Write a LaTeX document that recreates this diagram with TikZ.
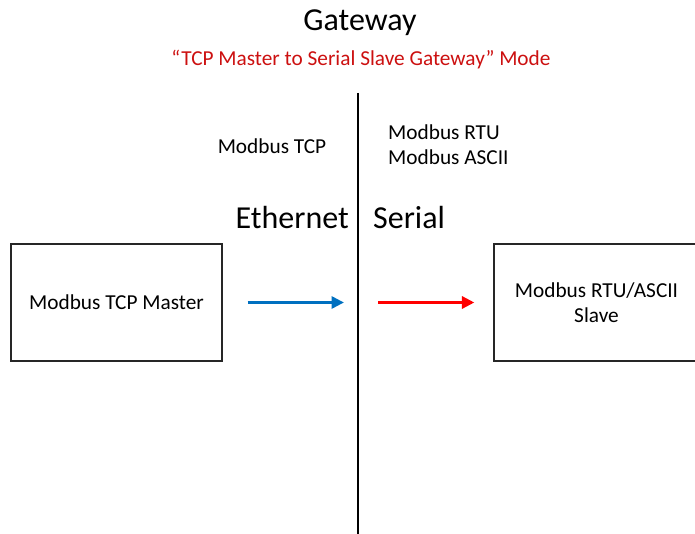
\documentclass[tikz,border=0pt]{standalone}
\usepackage{fontspec}
\setmainfont{Carlito}
\usetikzlibrary{arrows.meta,positioning}
\definecolor{ethblue}{RGB}{0,112,192}
\definecolor{modered}{RGB}{204,16,16}

\begin{document}
\begin{tikzpicture}[
    x=1pt, y=-1pt,
    device/.style={draw=black!85, line width=1.2pt, rectangle, minimum width=211pt, minimum height=117pt, align=center, font=\fontsize{21.3}{25.3}\selectfont},
    proto/.style={font=\fontsize{21.3}{25.3}\selectfont, inner sep=0pt},
    side/.style={font=\fontsize{32}{38}\selectfont, inner sep=0pt},
    flow/.style={-{Triangle[length=12.5pt,width=12pt]}, line width=3.2pt}
]
  \useasboundingbox (0,0) rectangle (695,534);

  % Titles
  \node (title) [side] at (360,23) {Gateway};
  \node (mode) [proto, text=modered] at (361,60) {“TCP Master to Serial Slave Gateway” Mode};

  % Divider between the two sides
  \coordinate (divtop) at (358,93);
  \coordinate (divbot) at (358,540);
  \draw [line width=2.4pt] (divtop) -- (divbot);

  % Protocol labels
  \node (tcp) [proto] at (272,146) {Modbus TCP};
  \node (rtu) [proto, anchor=west] at (388,132) {Modbus RTU};
  \node (ascii) [proto, anchor=west] at (388,157) {Modbus ASCII};
  \node (eth) [side, anchor=east] at (349,218) {Ethernet};
  \node (ser) [side, anchor=west] at (373,218) {Serial};

  % Devices
  \node (master) [device] at (116.5,302.5) {Modbus TCP Master};
  \node (slave) [device, minimum width=205pt] at (596.5,302.5) {Modbus RTU/ASCII\\Slave};

  % Arrows
  \coordinate (ethend) at (344,302.5);
  \coordinate (serstart) at (378,302.5);
  \draw [flow, ethblue, shorten <=25pt] (master.east) -- (ethend);
  \draw [flow, red, shorten >=19pt] (serstart) -- (slave.west);
\end{tikzpicture}
\end{document}
